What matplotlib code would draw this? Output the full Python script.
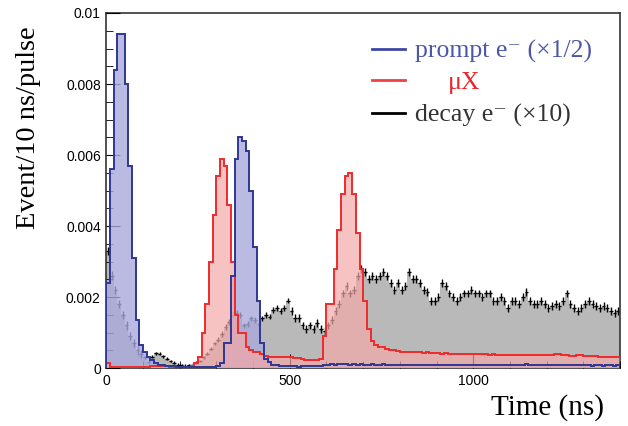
import numpy as np
import matplotlib
matplotlib.use("Agg")
import matplotlib.pyplot as plt

# ---- data: 10 ns bins from 0 to 1400 ns ----
bin_edges = np.arange(0, 1410, 10)

# prompt e- (x1/2)
prompt = [0.0024, 0.0056, 0.0084, 0.0094, 0.0094, 0.0080, 0.0057, 0.0031, 0.00135, 0.00065,
          0.00045, 0.00030, 0.00022, 0.00015, 0.00010, 0.00008, 0.00007, 0.00006, 0.00005, 0.00004,
          0.00004, 0.00003, 0.00003, 0.00003, 0.00003, 0.00003, 0.00003, 0.00003, 0.00003, 0.00004,
          0.00005, 0.00015, 0.0007, 0.0007, 0.0026, 0.0059, 0.0065, 0.0064, 0.0061, 0.0050,
          0.0034, 0.0019, 0.0007, 0.00025, 0.00018, 0.00010, 0.00008, 0.00006, 0.00005, 0.00005,
          0.00005, 0.00005, 0.00004, 0.00005, 0.00005, 0.00005, 0.00006, 0.00006, 0.00007, 0.00008,
          0.00010, 0.00011, 0.00010, 0.00011, 0.00012, 0.00011, 0.00010, 0.00011, 0.00010, 0.00011,
          0.00010, 0.00010, 0.00011, 0.00010, 0.00010, 0.00011, 0.00010, 0.00009, 0.00010, 0.00010,
          0.00010, 0.00010, 0.00009, 0.00010, 0.00010, 0.00009, 0.00010, 0.00010, 0.00009, 0.00009,
          0.00010, 0.00009, 0.00010, 0.00009, 0.00009, 0.00010, 0.00009, 0.00009, 0.00010, 0.00009,
          0.00009, 0.00010, 0.00009, 0.00009, 0.00008, 0.00009, 0.00009, 0.00008, 0.00009, 0.00009,
          0.00008, 0.00009, 0.00008, 0.00009, 0.00011, 0.00009, 0.00008, 0.00009, 0.00008, 0.00008,
          0.00009, 0.00008, 0.00008, 0.00009, 0.00008, 0.00008, 0.00009, 0.00008, 0.00008, 0.00008,
          0.00008, 0.00008, 0.00007, 0.00008, 0.00008, 0.00007, 0.00008, 0.00008, 0.00007, 0.00008]

# muonic X-ray
mux = [0.00014, 0.00003, 0.00002, 0.00002, 0.00002, 0.00002, 0.00002, 0.00002, 0.00002, 0.00002,
       0.00002, 0.00003, 0.00006, 0.00007, 0.00007, 0.00006, 0.00005, 0.00004, 0.00003, 0.00003,
       0.00003, 0.00003, 0.00003, 0.00005, 0.00014, 0.0003, 0.0010, 0.0018, 0.0030, 0.0043,
       0.0054, 0.0059, 0.0057, 0.0046, 0.0030, 0.0015, 0.0010, 0.0010, 0.0006, 0.0005,
       0.00046, 0.00046, 0.00040, 0.00033, 0.00032, 0.00032, 0.00031, 0.00031, 0.00030, 0.00030,
       0.00030, 0.00029, 0.00028, 0.00025, 0.00024, 0.00024, 0.00023, 0.00024, 0.00026, 0.0009,
       0.0018, 0.0018, 0.0028, 0.0039, 0.0049, 0.0054, 0.0055, 0.0049, 0.0038, 0.0028,
       0.0019, 0.0011, 0.00075, 0.00065, 0.0006, 0.0006, 0.00055, 0.0005, 0.0005, 0.00047,
       0.00046, 0.00045, 0.00045, 0.00044, 0.00045, 0.00044, 0.00043, 0.00044, 0.00043, 0.00042,
       0.00042, 0.00041, 0.00042, 0.00041, 0.00040, 0.00041, 0.00040, 0.00040, 0.00041, 0.00040,
       0.00040, 0.00039, 0.00040, 0.00039, 0.00038, 0.00039, 0.00038, 0.00037, 0.00038, 0.00036,
       0.00037, 0.00036, 0.00037, 0.00036, 0.00037, 0.00036, 0.00036, 0.00037, 0.00036, 0.00036,
       0.00037, 0.00038, 0.00040, 0.00041, 0.00036, 0.00038, 0.00034, 0.00035, 0.00036, 0.00036,
       0.00035, 0.00034, 0.00033, 0.00033, 0.00032, 0.00032, 0.00031, 0.00031, 0.00032, 0.00031]

# decay e- (x10)
decay = [0.0033, 0.0026, 0.0022, 0.0018, 0.0015, 0.0012, 0.0009, 0.0007, 0.0005, 0.0004,
         0.0003, 0.00018, 0.00032, 0.00042, 0.00040, 0.00033, 0.00026, 0.00020, 0.00015, 0.00010,
         0.00008, 0.00007, 0.00008, 0.00010, 0.00015, 0.00020, 0.00030, 0.00040, 0.00055, 0.00070,
         0.00080, 0.00095, 0.00115, 0.0013, 0.0015, 0.00155, 0.0015, 0.0012, 0.00125, 0.0014,
         0.00135, 0.00125, 0.0014, 0.0015, 0.00145, 0.00163, 0.0017, 0.0016, 0.0017, 0.0019,
         0.0016, 0.0014, 0.0014, 0.0012, 0.0011, 0.0012, 0.0011, 0.00127, 0.0011, 0.00105,
         0.0012, 0.00135, 0.0016, 0.0018, 0.0021, 0.0023, 0.0021, 0.0022, 0.0026, 0.0028,
         0.0027, 0.0025, 0.0026, 0.0025, 0.0026, 0.0027, 0.0026, 0.0024, 0.0022, 0.0024,
         0.0022, 0.0023, 0.0027, 0.0025, 0.0025, 0.0024, 0.0022, 0.00215, 0.0019, 0.0019,
         0.0020, 0.0024, 0.0023, 0.0021, 0.0020, 0.0019, 0.0020, 0.0021, 0.0021, 0.0022,
         0.0021, 0.0021, 0.0020, 0.0021, 0.0021, 0.0019, 0.0019, 0.0020, 0.0019, 0.0017,
         0.0019, 0.0019, 0.0018, 0.0020, 0.00215, 0.0019, 0.0018, 0.0018, 0.0019, 0.0018,
         0.0017, 0.00175, 0.0018, 0.00175, 0.0019, 0.0021, 0.0018, 0.0017, 0.0016, 0.0017,
         0.0018, 0.0019, 0.0018, 0.00175, 0.0017, 0.00175, 0.0017, 0.0016, 0.00155, 0.0016]

decay_err = [0.00012] * 10 + [0.00004] * 20 + [0.00008] * 20 + [0.00011] * 90

x_ticks = [0, 500, 1000]
y_ticks = [0, 0.002, 0.004, 0.006, 0.008, 0.01]
y_ticklabels = ["0", "0.002", "0.004", "0.006", "0.008", "0.01"]

blue_line = '#2e3894'
blue_fill = '#a9a9dc'
red_line = '#ee2b2b'
red_fill = '#f4a8a8'
gray_fill = '#a8a8a8'

# ---- plot ----
fig = plt.figure(figsize=(6.28, 4.26), dpi=100)
ax = fig.add_axes([0.1693, 0.136, 0.818, 0.8335])

# gray decay histogram underneath, prompt/muX fills over it
ax.stairs(decay, bin_edges, fill=True, color=gray_fill, alpha=0.8, zorder=1)
centers = (bin_edges[:-1] + bin_edges[1:]) / 2
ax.errorbar(centers, decay, xerr=5, yerr=decay_err, fmt='none', ecolor='black',
            elinewidth=1.0, zorder=2)
ax.stairs(prompt, bin_edges, fill=True, color=blue_fill, alpha=0.8, zorder=3)
ax.stairs(mux, bin_edges, fill=True, color=red_fill, alpha=0.7, zorder=4)
ax.stairs(mux, bin_edges, color=red_line, lw=1.4, zorder=5)
ax.stairs(prompt, bin_edges, color=blue_line, lw=1.4, zorder=6)

ax.set_xlim(0, 1400)
ax.set_ylim(0, 0.01)
ax.set_xticks(x_ticks)
ax.set_xticks(np.arange(0, 1401, 100), minor=True)
ax.set_yticks(y_ticks)
ax.set_yticklabels(y_ticklabels)
ax.set_yticks(np.arange(0, 0.01001, 0.0005), minor=True)
ax.tick_params(which='both', direction='in', labelsize=10, pad=4)
ax.tick_params(which='major', length=10)
ax.tick_params(which='minor', length=5)
ax.tick_params(top=False, right=False, which='both')
for lab in ax.get_xticklabels() + ax.get_yticklabels():
    lab.set_fontfamily('Liberation Sans')
for sp in ax.spines.values():
    sp.set_linewidth(1.2)
    sp.set_color('#333333')
ax.set_axisbelow(False)

serif = ['Liberation Serif', 'DejaVu Serif']
fig.text(29 / 628, 1 - 128 / 426, "Event/10 ns/pulse", rotation=90, ha='center',
         va='center', fontsize=20.5, family=serif)
fig.text(604 / 628, 1 - 408 / 426, "Time (ns)", ha='right', va='center',
         fontsize=21, family=serif)

# legend
leg_rows = [("prompt e\u207b (×1/2)", '#4c57a8', '#3d48a4', 0.899, 0.601),
            ("μX", '#e8262b', '#f04040', 0.811, 0.665),
            ("decay e\u207b (×10)", '#333333', '#000000', 0.718, 0.601)]
for label, tcol, lcol, yy, xt in leg_rows:
    ax.plot([0.517, 0.581], [yy, yy], color=lcol, lw=2, transform=ax.transAxes)
    ax.text(xt, yy, label, color=tcol, fontsize=18.5, family=serif,
            ha='left', va='center_baseline', transform=ax.transAxes)

fig.savefig("out.png", dpi=100)
